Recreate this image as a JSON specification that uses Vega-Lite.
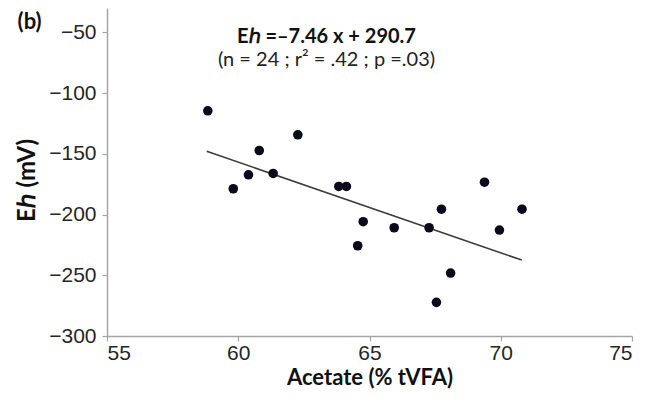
{
  "$schema": "https://vega.github.io/schema/vega-lite/v6.json",
  "width": 525,
  "height": 328,
  "autosize": {"type": "none"},
  "padding": {"left": 107, "top": 8, "right": 14, "bottom": 62},
  "background": "white",
  "title": {
    "text": "Eℎ =–7.46 x + 290.7",
    "subtitle": "(n = 24 ; r² = .42 ; p =.03)",
    "orient": "top",
    "anchor": "middle",
    "offset": -62,
    "dx": -43,
    "font": "Lato",
    "fontSize": 20,
    "fontWeight": "bold",
    "color": "#111111",
    "subtitleFont": "Lato",
    "subtitleFontSize": 20,
    "subtitleColor": "#222222",
    "subtitlePadding": 3
  },
  "config": {
    "view": {"stroke": null},
    "axis": {
      "grid": false,
      "domainColor": "#a6a6a6",
      "domainWidth": 1.5,
      "tickColor": "#a6a6a6",
      "tickWidth": 1.2,
      "tickSize": 5,
      "labelFont": "Liberation Sans",
      "labelFontSize": 21,
      "labelColor": "#262626",
      "titleFont": "Lato",
      "titleFontWeight": "bold",
      "titleColor": "#111111"
    }
  },
  "datasets": {
    "points": [
      {"acetate": 58.84, "eh": -114.6},
      {"acetate": 59.81, "eh": -178.8},
      {"acetate": 60.39, "eh": -167.3},
      {"acetate": 60.80, "eh": -147.3},
      {"acetate": 61.33, "eh": -166.2},
      {"acetate": 62.27, "eh": -134.4},
      {"acetate": 63.83, "eh": -176.9},
      {"acetate": 64.12, "eh": -176.9},
      {"acetate": 64.55, "eh": -225.7},
      {"acetate": 64.76, "eh": -205.9},
      {"acetate": 65.94, "eh": -210.9},
      {"acetate": 67.27, "eh": -210.9},
      {"acetate": 67.55, "eh": -272.3},
      {"acetate": 67.74, "eh": -195.6},
      {"acetate": 68.09, "eh": -248.2},
      {"acetate": 69.38, "eh": -173.4},
      {"acetate": 69.95, "eh": -212.8},
      {"acetate": 70.81, "eh": -195.6}
    ],
    "fit": [
      {"acetate": 58.8, "eh": -147.9},
      {"acetate": 70.8, "eh": -237.5}
    ],
    "label": [
      {"acetate": 52.05, "eh": -41.6, "text": "(b)"}
    ]
  },
  "layer": [
    {
      "data": {"name": "fit"},
      "mark": {"type": "line", "color": "#3a3a3a", "strokeWidth": 1.6},
      "encoding": {
        "x": {
          "field": "acetate", "type": "quantitative",
          "scale": {"domain": [55, 75], "nice": false},
          "axis": {
            "title": "Acetate (% tVFA)",
            "titleFontSize": 22,
            "values": [55, 60, 65, 70, 75],
            "labelPadding": 1,
            "titlePadding": 4
          }
        },
        "y": {
          "field": "eh", "type": "quantitative",
          "scale": {"domain": [-300, -30], "nice": false, "zero": false},
          "axis": {
            "title": "Eℎ (mV)",
            "titleFontSize": 24,
            "values": [-300, -250, -200, -150, -100, -50],
            "labelPadding": 6,
            "titleX": -80,
            "titleY": 172,
            "titleAlign": "center",
            "titleBaseline": "middle"
          }
        }
      }
    },
    {
      "data": {"name": "points"},
      "mark": {"type": "circle", "color": "#0a0a1c", "opacity": 1, "size": 92},
      "encoding": {
        "x": {"field": "acetate", "type": "quantitative"},
        "y": {"field": "eh", "type": "quantitative"}
      }
    },
    {
      "data": {"name": "label"},
      "mark": {"type": "text", "font": "Lato", "fontWeight": "bold", "fontSize": 22, "color": "#111111", "clip": false},
      "encoding": {
        "x": {"field": "acetate", "type": "quantitative"},
        "y": {"field": "eh", "type": "quantitative"},
        "text": {"field": "text"}
      }
    }
  ]
}
